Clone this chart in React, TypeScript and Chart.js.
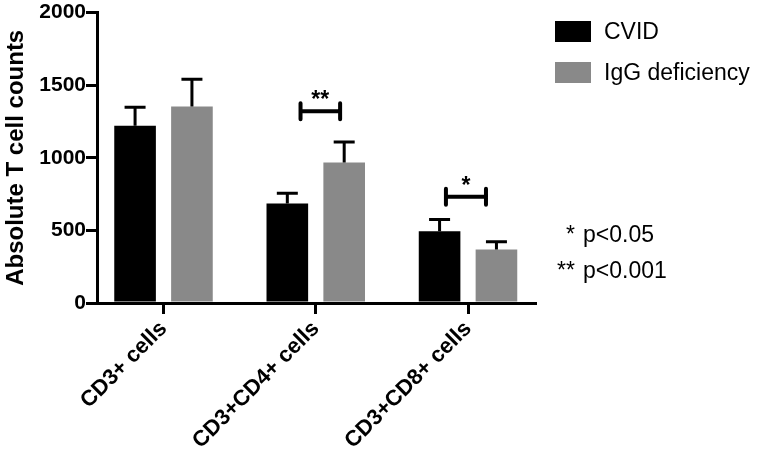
import React, { useEffect, useRef } from 'react';
import { Chart, registerables } from 'chart.js';

Chart.register(...registerables);

const FONT = "'Liberation Sans', Arial, Helvetica, sans-serif";

const categories = ['CD3+ cells', 'CD3+CD4+ cells', 'CD3+CD8+ cells'];
const seriesNames = ['CVID', 'IgG deficiency'];
const seriesColors = ['#000000', '#898989'];
const cvidMeans = [1221, 685, 495];
const cvidErrors = [128, 71, 80];
const iggMeans = [1354, 967, 369];
const iggErrors = [187, 142, 52];
const yTicks = [0, 500, 1000, 1500, 2000];
const yTitle = 'Absolute T cell counts';
const sigLabels = ['**', '*'];
const sigFrom = [0.9, 1.855];
const sigTo = [1.16, 2.118];
const sigLevel = [1320, 731];
const noteStars = ['*', '**'];
const noteTexts = ['p<0.05', 'p<0.001'];

const errors = [cvidErrors, iggErrors];

const overlayPlugin = {
  id: 'overlay',
  afterDatasetsDraw(chart: any) {
    const ctx = chart.ctx;
    const xs = chart.scales.x;
    const ys = chart.scales.y;
    ctx.save();
    ctx.strokeStyle = '#000';
    ctx.lineWidth = 3;
    ctx.lineCap = 'butt';
    chart.data.datasets.forEach((ds: any, di: number) => {
      const meta = chart.getDatasetMeta(di);
      meta.data.forEach((el: any, i: number) => {
        const v = ds.data[i].y;
        const top = ys.getPixelForValue(v + errors[di][i]);
        ctx.beginPath();
        ctx.moveTo(el.x, el.y);
        ctx.lineTo(el.x, top);
        ctx.moveTo(el.x - 10.5, top);
        ctx.lineTo(el.x + 10.5, top);
        ctx.stroke();
      });
    });
    ctx.lineWidth = 4;
    ctx.lineCap = 'round';
    ctx.fillStyle = '#000';
    ctx.font = `bold 23px ${FONT}`;
    ctx.textAlign = 'center';
    ctx.textBaseline = 'alphabetic';
    sigLabels.forEach((lab, i) => {
      const x1 = xs.getPixelForValue(sigFrom[i]);
      const x2 = xs.getPixelForValue(sigTo[i]);
      const y = ys.getPixelForValue(sigLevel[i]);
      ctx.beginPath();
      ctx.moveTo(x1, y);
      ctx.lineTo(x2, y);
      ctx.moveTo(x1, y - 8);
      ctx.lineTo(x1, y + 8);
      ctx.moveTo(x2, y - 8);
      ctx.lineTo(x2, y + 8);
      ctx.stroke();
      ctx.fillText(lab, (x1 + x2) / 2, y - 4);
    });
    ctx.restore();
  },
  afterDraw(chart: any) {
    const ctx = chart.ctx;
    const area = chart.chartArea;
    ctx.save();
    const lx = area.right + 20;
    ctx.font = `23px ${FONT}`;
    ctx.textAlign = 'left';
    ctx.textBaseline = 'alphabetic';
    seriesNames.forEach((name, i) => {
      const top = 21 + i * 41;
      ctx.fillStyle = seriesColors[i];
      ctx.fillRect(lx, top, 36, 21);
      ctx.fillStyle = '#000';
      ctx.fillText(name, lx + 49, top + 18);
    });
    noteTexts.forEach((t, i) => {
      const base = 242 + i * 36;
      ctx.textAlign = 'right';
      ctx.fillText(noteStars[i], lx + 20, base);
      ctx.textAlign = 'left';
      ctx.fillText(t, lx + 28, base);
    });
    ctx.restore();
  },
};

export default function App() {
  const ref = useRef<HTMLCanvasElement>(null);
  useEffect(() => {
    const canvas = ref.current;
    if (!canvas) return;
    const chart = new Chart(canvas, {
      type: 'bar',
      data: {
        datasets: [
          {
            label: seriesNames[0],
            data: cvidMeans.map((v, i) => ({ x: i, y: v })),
            backgroundColor: seriesColors[0],
            borderWidth: 0,
          },
          {
            label: seriesNames[1],
            data: iggMeans.map((v, i) => ({ x: i, y: v })),
            backgroundColor: seriesColors[1],
            borderWidth: 0,
          },
        ],
      },
      options: {
        responsive: false,
        animation: false,
        events: [],
        layout: { padding: { left: 0, top: 12, right: 222, bottom: 0 } },
        datasets: { bar: { categoryPercentage: 0.747, barPercentage: 0.732 } } as any,
        plugins: { legend: { display: false }, tooltip: { enabled: false }, title: { display: false } },
        scales: {
          x: {
            type: 'linear',
            min: -0.4368,
            max: 2.44,
            offset: false,
            grid: { offset: false, drawOnChartArea: false, color: '#000', lineWidth: 3, tickLength: 11 },
            border: { color: '#000', width: 3 },
            ticks: {
              autoSkip: false,
              minRotation: 45,
              maxRotation: 45,
              padding: 2,
              color: '#000',
              font: { family: FONT, size: 22, weight: 'bold' },
              callback: (v: any) => categories[v] ?? '',
            },
            afterBuildTicks: (s: any) => {
              s.ticks = categories.map((_, i) => ({ value: i }));
            },
            afterFit: (s: any) => {
              s.height = 147;
            },
          } as any,
          y: {
            type: 'linear',
            min: 0,
            max: 2000,
            grid: { drawOnChartArea: false, color: '#000', lineWidth: 3, tickLength: 11 },
            border: { color: '#000', width: 3 },
            ticks: {
              padding: 0,
              color: '#000',
              font: { family: FONT, size: 21, weight: 'bold' },
              callback: (v: any) => String(v),
            },
            afterBuildTicks: (s: any) => {
              s.ticks = yTicks.map((v) => ({ value: v }));
            },
            title: {
              display: true,
              text: yTitle,
              color: '#000',
              font: { family: FONT, size: 24, weight: 'bold' },
              padding: { top: 2, bottom: 0 },
            },
            afterFit: (s: any) => {
              s.width = 97;
            },
          } as any,
        },
      },
      plugins: [overlayPlugin],
    });
    return () => chart.destroy();
  }, []);
  return (
    <div style={{ position: 'fixed', left: 0, top: 0, width: 757, height: 450, background: '#fff' }}>
      <canvas ref={ref} width={757} height={450} style={{ display: 'block' }} />
    </div>
  );
}
